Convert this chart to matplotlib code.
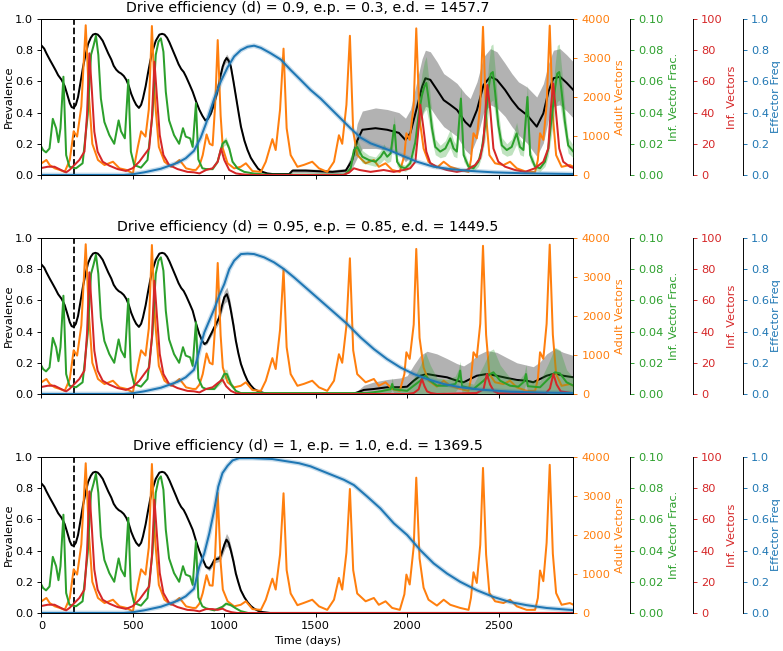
import numpy as np
import matplotlib
matplotlib.use("Agg")
import matplotlib.pyplot as plt

plt.rcParams["font.size"] = 9.6

# ---------------- data ----------------
# the first ~830 days are identical in all three runs
t_prev_early = [0, 15, 27, 45, 64, 78, 91, 110, 127, 140, 155, 165, 176, 188, 200, 213, 227, 241, 255, 270,
                282, 295, 308, 320, 335, 350, 365, 382, 395, 409, 422, 436, 450, 464, 478, 491, 505, 518, 533, 545,
                555, 570, 582, 595, 609, 625, 645, 660, 673, 687, 700, 718, 736, 750, 764, 778, 791, 810, 827]
prev_early = [0.83, 0.81, 0.78, 0.74, 0.70, 0.67, 0.64, 0.61, 0.57, 0.52, 0.46, 0.435, 0.43, 0.45, 0.50, 0.59,
              0.69, 0.77, 0.84, 0.88, 0.90, 0.905, 0.90, 0.885, 0.86, 0.82, 0.78, 0.74, 0.70, 0.675, 0.66, 0.65,
              0.635, 0.61, 0.57, 0.52, 0.48, 0.45, 0.43, 0.45, 0.49, 0.57, 0.65, 0.73, 0.80, 0.86, 0.90, 0.905,
              0.90, 0.88, 0.85, 0.80, 0.75, 0.71, 0.68, 0.66, 0.63, 0.58, 0.534]

t_adult_early = [0, 27, 45, 73, 100, 127, 155, 176, 195, 218, 242, 260, 278, 309, 345, 391, 427, 464, 500, 527,
                 545, 569, 587, 604, 622, 642, 673, 709, 755, 791, 827]
adult_early = [300, 385, 255, 170, 130, 80, 385, 1120, 985, 1760, 3840, 2000, 800, 385, 255, 340, 170, 130, 40, 720,
               1120, 985, 1680, 3820, 1840, 720, 340, 210, 385, 170, 130]

t_ivf_early = [0, 9, 25, 44, 62, 80, 93, 104, 120, 135, 153, 189, 225, 253, 271, 285, 298, 311, 325, 344,
               371, 398, 422, 435, 456, 475, 489, 507, 544, 580, 607, 625, 640, 653, 667, 680, 698, 725, 753, 774,
               789, 813, 827, 845, 858, 880]
ivf_early = [0.018, 0.016, 0.0145, 0.017, 0.036, 0.030, 0.021, 0.030, 0.063, 0.0128, 0.0053, 0.0043, 0.0075, 0.0385,
             0.077, 0.083, 0.0893, 0.077, 0.049, 0.034, 0.0256, 0.020, 0.035, 0.028, 0.0235, 0.061, 0.015, 0.0064,
             0.0047, 0.0096, 0.0385, 0.077, 0.0855, 0.0876, 0.079, 0.0534, 0.035, 0.0256, 0.020, 0.030, 0.0246,
             0.0235, 0.018, 0.046, 0.010, 0.0043]

t_inf_early = [0, 35, 71, 107, 135, 153, 180, 207, 235, 249, 262, 275, 289, 307, 335, 371, 416, 462, 498, 535,
               562, 589, 604, 618, 631, 647, 667, 698, 744, 798, 834]
inf_early = [4.5, 5.3, 5.3, 3.2, 1.7, 3.2, 6.4, 9.6, 15, 38.5, 78, 55.5, 27.8, 15, 8.5, 6.0, 3.8, 2.6, 4.3, 8.5,
             12.8, 17, 36.3, 72.6, 51, 25.6, 12.8, 6.4, 3.8, 2.0, 1.7]

t_eff_early = [0, 450, 500, 562, 653, 744, 789, 834]
eff_early = [0.0, 0.0, 0.005, 0.017, 0.04, 0.078, 0.107, 0.155]

# ---- run-specific parts (after ~day 840) ----
t_prev_1 = [846, 864, 880, 896, 910, 927, 945, 964, 978, 991, 1002, 1013, 1025, 1036, 1050, 1064, 1078, 1091, 1110,
            1127, 1145, 1164, 1185, 1209, 1235, 1264,
            1355, 1373, 1445, 1591, 1664, 1700, 1727, 1755, 1827, 1891, 1955, 1991, 2018, 2055, 2082, 2100, 2127,
            2164, 2200, 2236, 2273, 2318, 2345, 2382, 2418, 2455, 2491, 2536, 2573, 2609, 2655, 2709, 2745, 2773,
            2800, 2836, 2873, 2909]
prev_1 = [0.47, 0.417, 0.38, 0.35, 0.36, 0.395, 0.46, 0.545, 0.63, 0.694, 0.73, 0.75, 0.73, 0.694, 0.60, 0.50, 0.40,
          0.31, 0.22, 0.16, 0.11, 0.075, 0.04, 0.02, 0.01, 0.006,
          0.006, 0.028, 0.028, 0.02, 0.028, 0.096, 0.22, 0.29, 0.30, 0.29, 0.27, 0.224, 0.27, 0.44, 0.566, 0.62,
          0.61, 0.545, 0.48, 0.45, 0.417, 0.34, 0.31, 0.417, 0.577, 0.63, 0.61, 0.545, 0.48, 0.427, 0.385, 0.31,
          0.395, 0.534, 0.62, 0.63, 0.59, 0.545]
prev_sd_1 = [0.005, 0.005, 0.005, 0.005, 0.006, 0.008, 0.012, 0.015, 0.018, 0.02, 0.022, 0.025, 0.022, 0.02, 0.018,
             0.015, 0.012, 0.01, 0.009, 0.008, 0.007, 0.006, 0.005, 0.005, 0.005, 0.005,
             0.008, 0.012, 0.012, 0.012, 0.015, 0.05, 0.11, 0.12, 0.13, 0.13, 0.13, 0.14, 0.15, 0.17, 0.18, 0.18,
             0.18, 0.18, 0.17, 0.17, 0.17, 0.18, 0.18, 0.18, 0.18, 0.18, 0.18, 0.17, 0.17, 0.17, 0.18, 0.19, 0.19,
             0.18, 0.18, 0.18, 0.18, 0.18]

t_prev_2 = [846, 863, 877, 891, 904, 918, 932, 945, 958, 972, 986, 1000, 1014, 1025, 1036, 1050, 1063, 1077, 1091,
            1110, 1127, 1145, 1163, 1190, 1218, 1250,
            1700, 1727, 1763, 1818, 1890, 1963, 2000, 2036, 2072, 2109, 2163, 2218, 2272, 2309, 2345, 2381, 2436,
            2490, 2545, 2600, 2654, 2690, 2727, 2763, 2809, 2854, 2909]
prev_2 = [0.45, 0.385, 0.345, 0.32, 0.33, 0.363, 0.395, 0.427, 0.455, 0.49, 0.56, 0.62, 0.64, 0.60, 0.534, 0.44,
          0.342, 0.26, 0.192, 0.13, 0.085, 0.055, 0.032, 0.015, 0.006, 0.0,
          0.0, 0.01, 0.026, 0.032, 0.043, 0.043, 0.047, 0.085, 0.117, 0.128, 0.117, 0.107, 0.085, 0.075, 0.096,
          0.117, 0.128, 0.117, 0.103, 0.09, 0.085, 0.075, 0.096, 0.117, 0.132, 0.117, 0.107]
prev_sd_2 = [0.008, 0.01, 0.01, 0.01, 0.012, 0.015, 0.018, 0.02, 0.025, 0.03, 0.035, 0.04, 0.045, 0.04, 0.035,
             0.03, 0.02, 0.015, 0.012, 0.01, 0.008, 0.006, 0.005, 0.004, 0.003, 0.0,
             0.0, 0.01, 0.03, 0.045, 0.05, 0.06, 0.07, 0.1, 0.13, 0.146, 0.14, 0.12, 0.11, 0.105, 0.11, 0.13, 0.15,
             0.15, 0.13, 0.11, 0.1, 0.1, 0.11, 0.14, 0.16, 0.15, 0.14]

t_prev_3 = [846, 863, 880, 900, 918, 932, 945, 958, 972, 982, 990, 1001, 1012, 1024, 1036, 1050, 1063, 1077, 1090,
            1110, 1127, 1145, 1163, 1185, 1209, 1250, 2910]
prev_3 = [0.46, 0.40, 0.35, 0.296, 0.285, 0.31, 0.34, 0.345, 0.35, 0.37, 0.40, 0.44, 0.47, 0.45, 0.40, 0.33, 0.253,
          0.195, 0.146, 0.10, 0.07, 0.045, 0.028, 0.014, 0.006, 0.0, 0.0]
prev_sd_3 = [0.005, 0.005, 0.008, 0.01, 0.015, 0.018, 0.02, 0.02, 0.02, 0.025, 0.03, 0.035, 0.04, 0.035, 0.03,
             0.025, 0.02, 0.015, 0.01, 0.008, 0.006, 0.005, 0.004, 0.003, 0.002, 0.0, 0.0]

t_adult_late = [845, 864, 882, 903, 920, 936, 950, 964, 980, 992, 1018, 1054, 1090, 1118, 1154, 1200, 1227, 1263,
                1281, 1305, 1324, 1341, 1363, 1400, 1436, 1481, 1518, 1563, 1600, 1627, 1645, 1668, 1687, 1705,
                1727, 1773, 1818, 1845, 1882, 1918, 1960, 1985, 1996, 2014, 2036, 2050, 2068, 2090, 2117, 2163,
                2200, 2236, 2290, 2336, 2349, 2363, 2381, 2400, 2415, 2432, 2450, 2481, 2527, 2563, 2600, 2654,
                2700, 2715, 2727, 2745, 2763, 2780, 2797, 2815, 2845, 2890, 2910]
adult_1 = [130, 240, 510, 1040, 800, 760, 1800, 3460, 1520, 680, 300, 170, 210, 300, 100, 80, 340, 920, 640, 1680,
           3240, 1200, 510, 210, 260, 340, 170, 80, 340, 1020, 800, 1800, 3570, 1120, 510, 300, 385, 210, 300, 130,
           80, 510, 1070, 900, 1800, 3760, 1440, 680, 340, 190, 340, 210, 130, 80, 385, 1070, 940, 1800, 3800, 1520,
           510, 300, 255, 340, 170, 80, 80, 385, 1070, 900, 1800, 3830, 1520, 510, 210, 255, 210]
adult_2 = [130, 240, 510, 1040, 800, 760, 1750, 3360, 1500, 680, 300, 170, 210, 300, 100, 80, 340, 920, 640, 1650,
           3200, 1200, 510, 210, 260, 340, 170, 80, 340, 1020, 800, 1750, 3480, 1120, 510, 300, 385, 210, 300, 130,
           80, 510, 1070, 900, 1780, 3720, 1440, 680, 340, 190, 340, 210, 130, 80, 385, 1070, 940, 1800, 3800, 1520,
           510, 300, 255, 340, 170, 80, 80, 385, 1070, 900, 1800, 3830, 1520, 510, 210, 255, 210]
adult_3 = [130, 240, 510, 970, 710, 700, 1500, 3080, 1300, 600, 300, 170, 210, 300, 100, 80, 340, 880, 600, 1500,
           3070, 1100, 500, 200, 260, 340, 170, 80, 340, 900, 600, 1550, 3180, 1100, 500, 300, 385, 210, 300, 130,
           80, 480, 985, 730, 1700, 3470, 1400, 650, 340, 190, 340, 210, 130, 80, 385, 1045, 770, 1750, 3720, 1500,
           510, 300, 255, 340, 170, 80, 80, 385, 1090, 815, 1800, 3800, 1520, 510, 210, 255, 210]

t_ivf_1 = [900, 936, 963, 990, 1009, 1027, 1045, 1072, 1109, 1163, 1236, 1660, 1691, 1709, 1727, 1755, 1791, 1827,
           1855, 1873, 1891, 1910, 1930, 1945, 1963, 1990, 2017, 2045, 2063, 2081, 2094, 2105, 2117, 2136, 2154,
           2181, 2209, 2236, 2254, 2272, 2294, 2309, 2336, 2363, 2390, 2409, 2427, 2445, 2458, 2469, 2481, 2499,
           2518, 2545, 2572, 2599, 2617, 2636, 2658, 2673, 2700, 2727, 2754, 2772, 2790, 2809, 2821, 2832, 2845,
           2863, 2881, 2909]
ivf_1 = [0.0038, 0.0038, 0.0085, 0.020, 0.022, 0.017, 0.0085, 0.0043, 0.002, 0.0009, 0.0002, 0.0002, 0.0043, 0.016,
         0.018, 0.0117, 0.0096, 0.0085, 0.0117, 0.015, 0.0117, 0.0139, 0.032, 0.0085, 0.0053, 0.0043, 0.0075, 0.021,
         0.0385, 0.051, 0.0566, 0.059, 0.049, 0.030, 0.018, 0.015, 0.017, 0.0235, 0.017, 0.015, 0.049, 0.0128,
         0.0053, 0.0043, 0.0085, 0.017, 0.032, 0.0555, 0.065, 0.066, 0.0534, 0.032, 0.019, 0.016, 0.018, 0.0267,
         0.018, 0.016, 0.050, 0.0128, 0.0053, 0.0043, 0.0085, 0.017, 0.036, 0.0555, 0.065, 0.066, 0.0534, 0.034,
         0.019, 0.015]
ivf_sd_1 = [0.0005, 0.0005, 0.001, 0.002, 0.0025, 0.002, 0.001, 0.0005, 0.0003, 0.0002, 0, 0, 0.001, 0.004, 0.005,
            0.004, 0.003, 0.003, 0.004, 0.005, 0.004, 0.005, 0.006, 0.003, 0.002, 0.002, 0.003, 0.006, 0.010, 0.014,
            0.016, 0.017, 0.014, 0.008, 0.005, 0.004, 0.005, 0.006, 0.005, 0.004, 0.008, 0.004, 0.002, 0.002, 0.003,
            0.005, 0.009, 0.015, 0.018, 0.018, 0.015, 0.009, 0.005, 0.004, 0.005, 0.007, 0.005, 0.004, 0.008, 0.004,
            0.002, 0.002, 0.003, 0.005, 0.010, 0.015, 0.018, 0.018, 0.015, 0.009, 0.005, 0.004]

t_ivf_2 = [900, 945, 981, 1000, 1014, 1036, 1063, 1090, 1780, 1854, 1909, 1918, 1927, 2000, 2036, 2072, 2100, 2127,
           2163, 2218, 2263, 2281, 2290, 2300, 2363, 2418, 2454, 2472, 2509, 2563, 2609, 2640, 2650, 2660, 2727,
           2772, 2809, 2836, 2872, 2910]
ivf_2 = [0.0032, 0.0032, 0.0085, 0.0128, 0.0128, 0.0064, 0.002, 0.0006, 0.0006, 0.0017, 0.003, 0.0064, 0.003, 0.002,
         0.0053, 0.0085, 0.0117, 0.0085, 0.0053, 0.0053, 0.0064, 0.010, 0.015, 0.005, 0.0032, 0.0085, 0.0128, 0.0139,
         0.0085, 0.0053, 0.0047, 0.008, 0.0128, 0.005, 0.0043, 0.0096, 0.0139, 0.0132, 0.0075, 0.0053]
ivf_sd_2 = [0.0005, 0.0005, 0.002, 0.003, 0.003, 0.002, 0.0005, 0, 0, 0.001, 0.002, 0.004, 0.002, 0.002, 0.005,
            0.010, 0.015, 0.010, 0.005, 0.004, 0.005, 0.006, 0.006, 0.004, 0.003, 0.010, 0.015, 0.015, 0.010, 0.005,
            0.004, 0.005, 0.006, 0.004, 0.004, 0.010, 0.016, 0.015, 0.008, 0.005]

t_ivf_3 = [900, 945, 990, 1010, 1036, 1063, 1090, 1130, 2910]
ivf_3 = [0.003, 0.0017, 0.004, 0.006, 0.005, 0.003, 0.0012, 0.0, 0.0]
ivf_sd_3 = [0.0003, 0.0003, 0.0005, 0.0008, 0.0006, 0.0004, 0.0002, 0.0, 0.0]

t_inf_1 = [864, 900, 936, 964, 982, 1000, 1027, 1064, 1100, 1150, 1650, 1682, 1709, 1740, 1800, 1872, 1927, 1981,
           2017, 2045, 2059, 2072, 2087, 2105, 2127, 2163, 2217, 2272, 2326, 2372, 2399, 2417, 2428, 2439, 2454,
           2472, 2499, 2536, 2590, 2645, 2699, 2745, 2772, 2786, 2799, 2814, 2832, 2854, 2890, 2910]
inf_1 = [1.0, 3.2, 4.3, 8.5, 17, 9.6, 3.2, 1.0, 0.4, 0, 0, 1.5, 4.3, 3.2, 2.0, 3.2, 2.0, 3.2, 4.3, 8.5, 25.6, 45, 32,
         15, 7.5, 5.3, 3.2, 2.0, 3.2, 6.4, 10.7, 21, 40.6, 57.7, 42.7, 17, 8.5, 5.3, 3.2, 2.0, 4.3, 8.5, 17, 42.7,
         58.7, 40.6, 17, 8.5, 5.3, 4.5]
t_inf_2 = [864, 900, 936, 964, 990, 1010, 1036, 1064, 1100, 2000, 2036, 2063, 2081, 2095, 2109, 2130, 2163, 2380,
           2418, 2436, 2454, 2475, 2500, 2760, 2781, 2800, 2818, 2840, 2910]
inf_2 = [1.0, 3.2, 4.3, 7.0, 9.2, 5.0, 2.0, 0.5, 0.0, 0.0, 0.6, 3.0, 9.6, 5.0, 1.7, 0.6, 0.0, 0.6, 3.0, 12.8, 6.0,
         1.7, 0.4, 0.6, 3.5, 12.8, 6.0, 1.7, 0.4]
t_inf_3 = [864, 900, 936, 964, 990, 1010, 1040, 1070, 2910]
inf_3 = [1.0, 2.5, 2.5, 2.0, 2.8, 1.5, 0.5, 0.0, 0.0]

t_eff_1 = [871, 900, 945, 981, 1018, 1054, 1090, 1127, 1163, 1200, 1254, 1309, 1363, 1418, 1472, 1527, 1581, 1636,
           1690, 1745, 1800, 1854, 1900, 1981, 2054, 2145, 2236, 2345, 2472, 2636, 2910]
eff_1 = [0.24, 0.33, 0.49, 0.6, 0.69, 0.76, 0.80, 0.822, 0.829, 0.815, 0.78, 0.74, 0.673, 0.609, 0.545, 0.49, 0.427,
         0.363, 0.30, 0.24, 0.203, 0.18, 0.16, 0.12, 0.085, 0.053, 0.038, 0.026, 0.017, 0.011, 0.006]
t_eff_2 = [854, 872, 891, 918, 945, 972, 1000, 1027, 1054, 1091, 1127, 1163, 1218, 1272, 1327, 1381, 1454, 1527,
           1600, 1672, 1745, 1818, 1890, 1963, 2036, 2109, 2200, 2290, 2400, 2563, 2745, 2910]
eff_2 = [0.235, 0.32, 0.395, 0.47, 0.545, 0.63, 0.705, 0.80, 0.855, 0.897, 0.90, 0.897, 0.876, 0.844, 0.80, 0.748,
         0.673, 0.598, 0.523, 0.449, 0.363, 0.288, 0.224, 0.17, 0.128, 0.096, 0.064, 0.043, 0.028, 0.015, 0.009,
         0.006]
t_eff_3 = [863, 890, 918, 945, 967, 990, 1018, 1045, 1081, 1154, 1263, 1409, 1472, 1563, 1654, 1709, 1781, 1854,
           1927, 2000, 2072, 2145, 2218, 2290, 2381, 2472, 2563, 2654, 2763, 2910]
eff_3 = [0.296, 0.38, 0.51, 0.66, 0.81, 0.897, 0.944, 0.978, 0.993, 0.993, 0.987, 0.96, 0.94, 0.897, 0.854, 0.82,
         0.747, 0.67, 0.575, 0.50, 0.403, 0.318, 0.253, 0.2, 0.146, 0.103, 0.07, 0.05, 0.032, 0.018]

drive_eff = ["0.9", "0.95", "1"]
ep_vals = ["0.3", "0.85", "1.0"]
ed_vals = ["1457.7", "1449.5", "1369.5"]
release_day = 180

runs = [
    (t_prev_1, prev_1, prev_sd_1, adult_1, t_ivf_1, ivf_1, ivf_sd_1, t_inf_1, inf_1, t_eff_1, eff_1),
    (t_prev_2, prev_2, prev_sd_2, adult_2, t_ivf_2, ivf_2, ivf_sd_2, t_inf_2, inf_2, t_eff_2, eff_2),
    (t_prev_3, prev_3, prev_sd_3, adult_3, t_ivf_3, ivf_3, ivf_sd_3, t_inf_3, inf_3, t_eff_3, eff_3),
]

# ---------------- plotting ----------------
c_or, c_gr, c_rd, c_bl = "tab:orange", "tab:green", "tab:red", "tab:blue"
LW = 1.7
fig = plt.figure(figsize=(784 / 85, 651 / 85), dpi=85)
bottoms = [0.7312, 0.3948, 0.0584]

for i, run in enumerate(runs):
    tp, pv, psd, ad, ti, iv, isd, tn, nv, te, ev = run
    ax = fig.add_axes([0.0529, bottoms[i], 0.6786, 0.2396])

    lo = np.clip(np.array(pv) - np.array(psd), 0, None)
    hi = np.array(pv) + np.array(psd)
    ax.fill_between(tp, lo, hi, color="k", alpha=0.3, lw=0)
    ax.plot(t_prev_early + tp, prev_early + pv, color="k", lw=LW)
    ax.axvline(release_day, color="k", ls="--", lw=1.5)
    ax.set_ylim(0, 1)
    ax.set_xlim(0, 2910)
    ax.set_xticks([0, 500, 1000, 1500, 2000, 2500])
    ax.set_yticks([0, 0.2, 0.4, 0.6, 0.8, 1.0])
    ax.set_ylabel("Prevalence", labelpad=1)
    ax.set_title(f"Drive efficiency (d) = {drive_eff[i]}, e.p. = {ep_vals[i]}, e.d. = {ed_vals[i]}", fontsize=12)
    if i < 2:
        ax.tick_params(labelbottom=False)
    else:
        ax.set_xlabel("Time (days)")

    # adult vectors
    ax2 = ax.twinx()
    ax2.plot(t_adult_early + t_adult_late, adult_early + ad, color=c_or, lw=LW)
    ax2.set_ylim(0, 4000)
    ax2.set_yticks([0, 1000, 2000, 3000, 4000])
    ax2.set_ylabel("Adult Vectors", color=c_or)
    ax2.tick_params(axis="y", colors=c_or)

    # infected vector fraction
    ax3 = ax.twinx()
    ax3.spines["right"].set_position(("axes", 1.107))
    ilo = np.clip(np.array(iv) - np.array(isd), 0, None)
    ihi = np.array(iv) + np.array(isd)
    ax3.fill_between(ti, ilo, ihi, color=c_gr, alpha=0.3, lw=0)
    ax3.plot(t_ivf_early + ti, ivf_early + iv, color=c_gr, lw=LW)
    ax3.set_ylim(0, 0.1)
    ax3.set_yticks([0, 0.02, 0.04, 0.06, 0.08, 0.10])
    ax3.set_yticklabels(["0.00", "0.02", "0.04", "0.06", "0.08", "0.10"])
    ax3.set_ylabel("Inf. Vector Frac.", color=c_gr)
    ax3.tick_params(axis="y", colors=c_gr)

    # infected vectors
    ax4 = ax.twinx()
    ax4.spines["right"].set_position(("axes", 1.224))
    ax4.plot(t_inf_early + tn, inf_early + nv, color=c_rd, lw=LW)
    ax4.set_ylim(0, 100)
    ax4.set_yticks([0, 20, 40, 60, 80, 100])
    ax4.set_ylabel("Inf. Vectors", color=c_rd)
    ax4.tick_params(axis="y", colors=c_rd)

    # effector frequency
    ax5 = ax.twinx()
    ax5.spines["right"].set_position(("axes", 1.318))
    ax5.plot(t_eff_early + te, eff_early + ev, color=c_bl, lw=4, alpha=0.25)
    ax5.plot(t_eff_early + te, eff_early + ev, color=c_bl, lw=LW)
    ax5.set_ylim(0, 1)
    ax5.set_yticks([0, 0.2, 0.4, 0.6, 0.8, 1.0])
    ax5.set_ylabel("Effector Freq", color=c_bl, labelpad=2)
    ax5.tick_params(axis="y", colors=c_bl)

fig.savefig("out.png", dpi=85)
